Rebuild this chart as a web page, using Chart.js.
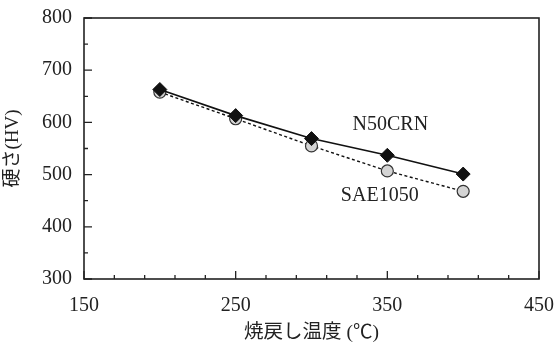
<!DOCTYPE html>
<html>
<head>
<meta charset="utf-8">
<script src="https://cdn.jsdelivr.net/npm/chart.js@4.4.1/dist/chart.umd.min.js"></script>
<style>
  html, body { margin: 0; padding: 0; background: #fff; }
  #wrap { width: 555px; height: 343px; }
</style>
</head>
<body>
<div id="wrap"><canvas id="hardnessChart"></canvas></div>
<script>
let temperatures = [200, 250, 300, 350, 400];
let n50crnHardness = [663, 613, 569, 537, 501];
let sae1050Hardness = [658, 607, 555, 507, 468];

let xTickLabels = [150, 250, 350, 450];
let yTickLabels = [300, 400, 500, 600, 700, 800];
let xMinorStep = 20;
let yMinorStep = 50;

let seriesLabels = ['N50CRN', 'SAE1050'];
let labelX = [352, 345];
let labelY = [596, 460];

const serif = "'Liberation Serif', 'Times New Roman', 'Noto Sans CJK JP', serif";
const ink = '#222';

// frame round the plot and the little inward ticks
let frameAndTicks = {
    id: 'frameAndTicks',
    beforeDatasetsDraw(chart) {
        const ctx = chart.ctx;
        const xs = chart.scales.x;
        const ys = chart.scales.y;
        const left = xs.getPixelForValue(xs.min);
        const right = xs.getPixelForValue(xs.max);
        const top = ys.getPixelForValue(ys.max);
        const bottom = ys.getPixelForValue(ys.min);
        ctx.save();
        ctx.strokeStyle = ink;
        ctx.lineWidth = 1.6;
        ctx.strokeRect(left, top, right - left, bottom - top);
        ctx.lineWidth = 1.3;
        ctx.beginPath();
        for (let v = xs.min; v <= xs.max; v += xMinorStep) {
            let px = xs.getPixelForValue(v);
            let len = xTickLabels.includes(v) ? 8 : 4;
            ctx.moveTo(px, bottom);
            ctx.lineTo(px, bottom - len);
        }
        for (let v = ys.min; v <= ys.max; v += yMinorStep) {
            let py = ys.getPixelForValue(v);
            let len = yTickLabels.includes(v) ? 8 : 4;
            ctx.moveTo(left, py);
            ctx.lineTo(left + len, py);
        }
        ctx.stroke();
        ctx.restore();
    },
    afterDatasetsDraw(chart) {
        const ctx = chart.ctx;
        const xs = chart.scales.x;
        const ys = chart.scales.y;
        ctx.save();
        ctx.fillStyle = ink;
        ctx.font = '20px ' + serif;
        ctx.textAlign = 'center';
        ctx.textBaseline = 'middle';
        seriesLabels.forEach((t, i) => {
            ctx.fillText(t, xs.getPixelForValue(labelX[i]), ys.getPixelForValue(labelY[i]));
        });
        ctx.restore();
    }
};

let options = {
    maintainAspectRatio: false,
    responsive: true,
    animation: false,
    layout: {
        padding: {left: 0, right: 16, top: 18, bottom: 0}
    },
    scales: {
        x: {
            type: 'linear',
            min: 150,
            max: 450,
            afterFit: (s) => { s.height = 64; s.paddingLeft = 0; s.paddingRight = 0; },
            afterBuildTicks: (s) => { s.ticks = xTickLabels.map(v => ({value: v})); },
            grid: { display: false, drawTicks: false },
            border: { display: false },
            ticks: {
                autoSkip: false,
                maxRotation: 0,
                padding: 15,
                color: ink,
                font: { family: serif, size: 20 }
            },
            title: {
                display: true,
                text: '焼戻し温度 (℃)',
                color: ink,
                padding: 0,
                font: { family: serif, size: 19.5, lineHeight: 1.05 }
            }
        },
        y: {
            min: 300,
            max: 800,
            afterFit: (s) => { s.width = 84; s.paddingTop = 0; s.paddingBottom = 0; },
            afterBuildTicks: (s) => { s.ticks = yTickLabels.map(v => ({value: v})); },
            grid: { display: false, drawTicks: false },
            border: { display: false },
            ticks: {
                padding: 12,
                color: ink,
                font: { family: serif, size: 20 }
            },
            title: {
                display: true,
                text: '硬さ(HV)',
                color: ink,
                padding: 2,
                font: { family: serif, size: 19 }
            }
        }
    },
    plugins: {
        legend: { display: false },
        tooltip: { enabled: false }
    }
};

let HardnessChart = new Chart(document.getElementById('hardnessChart'), {
    type: 'line',
    data: {
        datasets: [
            {
                label: seriesLabels[0],
                data: temperatures.map((t, i) => ({x: t, y: n50crnHardness[i]})),
                borderColor: '#111',
                borderWidth: 1.6,
                pointStyle: 'rectRot',
                pointRadius: 7,
                pointBackgroundColor: '#111',
                pointBorderColor: '#111',
                pointBorderWidth: 1,
                tension: 0
            },
            {
                label: seriesLabels[1],
                data: temperatures.map((t, i) => ({x: t, y: sae1050Hardness[i]})),
                borderColor: '#111',
                borderWidth: 1.4,
                borderDash: [3, 2.5],
                pointStyle: 'circle',
                pointRadius: 6,
                pointBackgroundColor: '#d4d4d4',
                pointBorderColor: '#333',
                pointBorderWidth: 1.2,
                tension: 0
            }
        ]
    },
    options: options,
    plugins: [frameAndTicks]
});
</script>
</body>
</html>
